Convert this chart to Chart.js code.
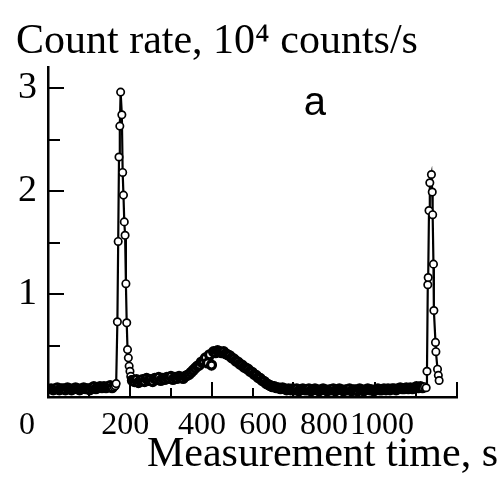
<!DOCTYPE html>
<html>
<head>
<meta charset="utf-8">
<script src="https://cdn.jsdelivr.net/npm/chart.js@4.4.1/dist/chart.umd.min.js"></script>
<style>
  html, body { margin: 0; padding: 0; background: #fff; }
  canvas { display: block; }
</style>
</head>
<body>
<canvas id="chart" width="503" height="492"></canvas>
<script>
var preT = [0, 5, 10, 15, 20, 25, 30, 35, 40, 45, 50, 55, 60, 65, 70, 75,
            80, 85, 90, 95, 100, 105, 110, 115, 120, 125, 130, 135, 140, 145, 150, 155];
var preR = [0.08, 0.07, 0.08, 0.09, 0.07, 0.08, 0.08, 0.07, 0.09, 0.08, 0.07, 0.08, 0.09, 0.08, 0.07, 0.08,
            0.09, 0.08, 0.08, 0.07, 0.09, 0.10, 0.08, 0.09, 0.10, 0.09, 0.10, 0.09, 0.10, 0.11, 0.09, 0.10];

var peak1T = [158, 160, 163, 165, 167, 169, 171, 174, 176, 178, 180, 182, 184, 186, 188, 190, 192, 194, 196, 198];
var peak1R = [0.11, 0.13, 0.73, 1.51, 2.33, 2.63, 2.96, 2.74, 2.18, 1.96, 1.70, 1.57, 1.10, 0.72, 0.46, 0.38, 0.30, 0.25, 0.20, 0.17];

var midT = [200, 205, 210, 215, 220, 225, 230, 235, 240, 245, 250, 255, 260, 265, 270, 275, 280, 285, 290, 295,
            300, 305, 310, 315, 320, 325, 330, 335, 340, 345, 350, 355, 360, 365, 370, 375, 380, 385, 390, 395,
            400, 405, 410, 415, 420, 425, 430, 435, 440, 445, 450, 455, 460, 465, 470, 475, 480, 485, 490, 495,
            500, 505, 510, 515, 520, 525, 530, 535, 540, 545, 550, 555, 560, 565, 570, 575, 580];
var midR = [0.16, 0.15, 0.17, 0.14, 0.16, 0.17, 0.15, 0.18, 0.16, 0.17, 0.15, 0.18, 0.17, 0.19, 0.16, 0.18, 0.17, 0.19, 0.18, 0.20,
            0.17, 0.19, 0.18, 0.20, 0.19, 0.18, 0.20, 0.21, 0.22, 0.24, 0.26, 0.28, 0.30, 0.31, 0.34, 0.35, 0.38, 0.33, 0.41, 0.31,
            0.44, 0.43, 0.45, 0.44, 0.43, 0.44, 0.42, 0.41, 0.40, 0.38, 0.37, 0.35, 0.34, 0.32, 0.31, 0.29, 0.28, 0.27, 0.25, 0.24,
            0.22, 0.21, 0.19, 0.18, 0.16, 0.15, 0.13, 0.12, 0.11, 0.10, 0.10, 0.09, 0.09, 0.08, 0.09, 0.08, 0.07];

var tailT = [585, 590, 595, 600, 605, 610, 615, 620, 625, 630, 635, 640, 645, 650, 655, 660, 665, 670, 675, 680,
             685, 690, 695, 700, 705, 710, 715, 720, 725, 730, 735, 740, 745, 750, 755, 760, 765, 770, 775, 780,
             785, 790, 795, 800, 805, 810, 815, 820, 825, 830, 835, 840, 845, 850, 855, 860, 865, 870, 875, 880,
             885, 890, 895, 900, 905, 910, 915, 920];
var tailR = [0.08, 0.07, 0.08, 0.07, 0.08, 0.06, 0.07, 0.08, 0.07, 0.07, 0.08, 0.06, 0.07, 0.08, 0.07, 0.06, 0.07, 0.08, 0.07, 0.06,
             0.07, 0.07, 0.08, 0.06, 0.07, 0.08, 0.07, 0.06, 0.07, 0.07, 0.08, 0.06, 0.07, 0.07, 0.06, 0.08, 0.07, 0.06, 0.07, 0.08,
             0.07, 0.07, 0.06, 0.07, 0.08, 0.07, 0.07, 0.08, 0.07, 0.08, 0.07, 0.08, 0.08, 0.07, 0.08, 0.09, 0.08, 0.08, 0.09, 0.08,
             0.09, 0.08, 0.09, 0.10, 0.09, 0.10, 0.09, 0.10];

var peak2T = [924, 926, 928, 929, 931, 933, 937, 939, 940, 942, 943, 947, 948, 952, 954, 956];
var peak2R = [0.09, 0.25, 1.09, 1.16, 1.81, 2.08, 2.16, 1.99, 1.77, 1.29, 0.84, 0.53, 0.44, 0.27, 0.21, 0.16];

var xTickLabels = ['0', '200', '400', '600', '800', '1000'];
// where the x labels sit (axis units, the printed labels drift left of their ticks)
var xLabelAt = [2, 244, 433, 584, 734, 877];
var yTickLabels = {1: '1', 2: '2', 3: '3'};
var panelLetter = 'a';

var timeSec = preT.concat(peak1T, midT, tailT, peak2T);
var rate = preR.concat(peak1R, midR, tailR, peak2R);
var points = timeSec.map(function (t, i) { return {x: t, y: rate[i]}; });

var serif = 'Liberation Serif';

// slow parts of the run are sampled densely in the original, markers merge into a black band
function isSlowPart(i) {
    var next = i + 1 < timeSec.length ? timeSec[i + 1] : timeSec[i];
    return next - timeSec[i] >= 5;
}

function tickAxis(pos, step, len) {
    return {
        type: 'linear',
        position: pos,
        weight: 0,
        min: pos === 'bottom' ? -8 : 0,
        max: pos === 'bottom' ? 1000 : 3.2,
        ticks: {display: false, stepSize: step, includeBounds: false},
        grid: {display: true, drawOnChartArea: false, drawTicks: true, tickLength: len, color: '#000', lineWidth: 2},
        border: {display: false},
        afterFit: function (s) { if (pos === 'bottom') s.height = 0; else s.width = 0; }
    };
}

// panel letter "a" in the upper right
var letterPlugin = {
    id: 'letter',
    afterDatasetsDraw: function (chart) {
        var ctx = chart.ctx;
        ctx.save();
        ctx.font = '40px "Liberation Sans"';
        ctx.fillStyle = '#000';
        ctx.textAlign = 'center';
        ctx.textBaseline = 'alphabetic';
        ctx.fillText(panelLetter, chart.scales.x.getPixelForValue(650), chart.scales.y.getPixelForValue(2.74));
        ctx.restore();
    }
};

new Chart(document.getElementById('chart'), {
    type: 'line',
    data: {
        datasets: [{
            data: points,
            borderColor: '#000',
            borderWidth: 2.2,
            pointRadius: function (c) { return isSlowPart(c.dataIndex) ? 4 : 3.7; },
            pointBorderWidth: function (c) { return isSlowPart(c.dataIndex) ? 3.2 : 1.7; },
            pointBackgroundColor: '#fff',
            pointBorderColor: '#000',
            tension: 0
        }]
    },
    options: {
        responsive: false,
        devicePixelRatio: 1,
        animation: false,
        layout: {padding: {left: 16, right: 5, top: 0, bottom: 0}},
        plugins: {
            legend: {display: false},
            tooltip: {enabled: false},
            title: {
                display: true,
                text: 'Count rate, 10\u2074 counts/s',
                align: 'start',
                color: '#000',
                font: {family: serif, size: 42, weight: 'normal'},
                padding: {top: 17, bottom: 0}
            },
            subtitle: {
                display: true,
                position: 'bottom',
                text: 'Measurement time, s',
                align: 'end',
                color: '#000',
                font: {family: serif, size: 42, weight: 'normal'},
                padding: {top: -9, bottom: 11.6}
            }
        },
        scales: {
            x: {
                type: 'linear',
                position: 'bottom',
                weight: 1,
                min: -8,
                max: 1000,
                grid: {display: false, drawTicks: false},
                border: {display: true, color: '#000', width: 2.5},
                afterBuildTicks: function (s) {
                    s.ticks = xLabelAt.map(function (v) { return {value: v}; });
                },
                ticks: {
                    autoSkip: false,
                    maxRotation: 0,
                    labelOffset: -25,
                    padding: 9,
                    color: '#000',
                    font: {family: serif, size: 32},
                    callback: function (v, i) { return xTickLabels[i]; }
                },
                afterFit: function (s) { s.height = 42; }
            },
            xMajor: tickAxis('bottom', 200, -15),
            xMinor: tickAxis('bottom', 100, -9),
            y: {
                type: 'linear',
                position: 'left',
                weight: 1,
                min: 0,
                max: 3.2,
                grid: {display: false, drawTicks: false},
                border: {display: true, color: '#000', width: 2.5},
                ticks: {
                    stepSize: 1,
                    includeBounds: false,
                    padding: 11,
                    color: '#000',
                    font: {family: serif, size: 38},
                    callback: function (v) { return yTickLabels[v] || ''; }
                },
                afterFit: function (s) { s.width = 32; }
            },
            yMajor: tickAxis('left', 1, -16),
            yMinor: tickAxis('left', 0.5, -12),
            yRight: {
                position: 'right',
                grid: {display: false, drawTicks: false},
                border: {display: false},
                ticks: {display: false},
                afterFit: function (s) { s.width = 41; }
            }
        }
    },
    plugins: [letterPlugin]
});
</script>
</body>
</html>
